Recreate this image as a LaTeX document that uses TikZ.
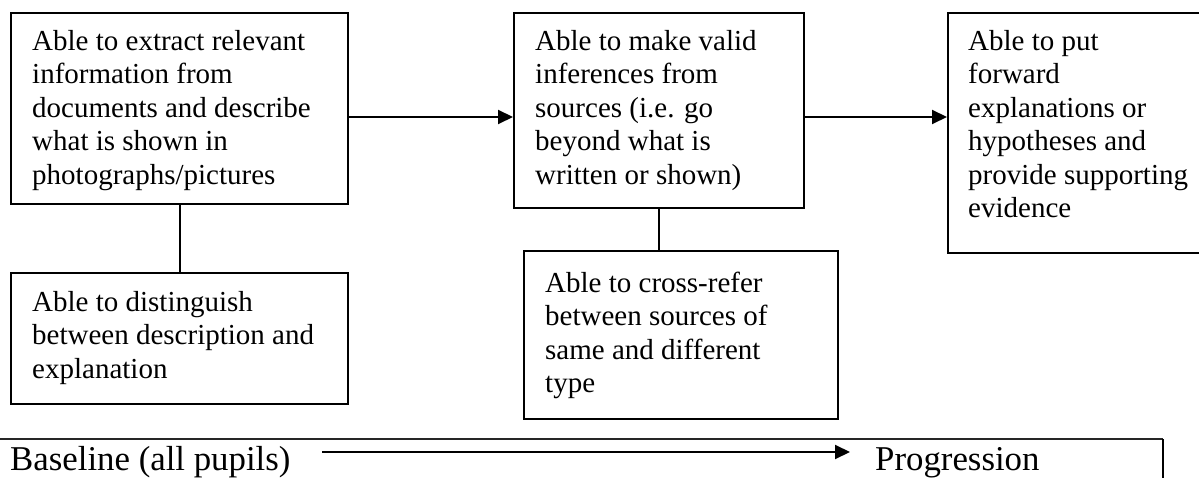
\documentclass[tikz,border=0pt]{standalone}
\usepackage{fontspec}
\setmainfont{Liberation Serif}
\usetikzlibrary{arrows.meta,calc}
\begin{document}
\begin{tikzpicture}[x=1pt,y=-1pt,
  box/.style={draw=black, line width=2pt, inner sep=0pt, anchor=north west, rectangle},
  txt/.style={inner sep=0pt, anchor=north west, align=left, font=\fontsize{29}{33.5}\selectfont},
  big/.style={inner sep=0pt, anchor=base west, font=\fontsize{34.8}{40}\selectfont},
  link/.style={line width=2pt},
  arr/.style={line width=2pt, -{Triangle[length=15pt,width=14pt]}},
  frame/.style={line width=1.5pt, draw=black!85}
]
\useasboundingbox (0,0) rectangle (1199,478);
\clip (0,0) rectangle (1199,478);

% boxes
\node[box, minimum width=337pt, minimum height=191pt] (b1) at (10,12) {};
\node[box, minimum width=290pt, minimum height=195pt] (b2) at (513,12) {};
\node[box, minimum width=300pt, minimum height=240pt] (b3) at (947,12) {};
\node[box, minimum width=337pt, minimum height=131pt] (b4) at (10,272) {};
\node[box, minimum width=314pt, minimum height=168pt] (b5) at (523,250) {};

% texts
\node[txt] (t1) at ($(b1.north west)+(22,14.5)$) {\strut Able to extract relevant\\information from\\documents and describe\\what is shown in\\photographs/pictures};
\node[txt] (t2) at ($(b2.north west)+(22,14.5)$) {\strut Able to make valid\\inferences from\\sources (i.e. go\\beyond what is\\written or shown)};
\node[txt] (t3) at ($(b3.north west)+(21,14.5)$) {\strut Able to put\\forward\\explanations or\\hypotheses and\\provide supporting\\evidence};
\node[txt] (t4) at ($(b4.north west)+(22,15.5)$) {\strut Able to distinguish\\between description and\\explanation};
\node[txt] (t5) at ($(b5.north west)+(22,18.5)$) {\strut Able to cross-refer\\between sources of\\same and different\\type};

% connectors
\coordinate (row) at (0,117);
\draw[arr] (b1.east |- row) -- (b2.west |- row);
\draw[arr] (b2.east |- row) -- (b3.west |- row);
\draw[link] (b1.south) -- (b4.north);
\draw[link] (b2.south) -- (b2.south |- b5.north);

% bottom band
\draw[frame] (0,439) -- (1163,439);
\draw[line width=2pt] (1163,439) -- (1163,480);
\node[big] (base) at (10,470) {Baseline (all pupils)};
\node[big] (prog) at (875,470) {Progression};
\coordinate (a0) at (322,452);
\coordinate (a1) at (850,452);
\draw[arr] (a0) -- (a1);
\end{tikzpicture}
\end{document}
